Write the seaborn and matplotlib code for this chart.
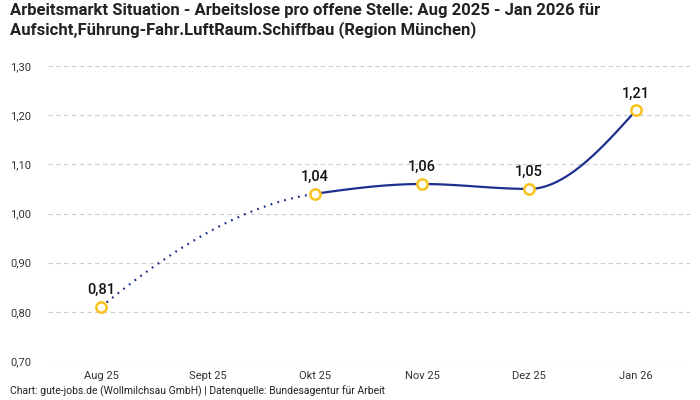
import numpy as np
import pandas as pd
import seaborn as sns
import matplotlib
matplotlib.use('Agg')
import matplotlib.pyplot as plt
from matplotlib.ticker import FuncFormatter

months = ['Aug 25', 'Sept 25', 'Okt 25', 'Nov 25', 'Dez 25', 'Jan 26']
values = [0.81, np.nan, 1.04, 1.06, 1.05, 1.21]
yticks = [0.70, 0.80, 0.90, 1.00, 1.10, 1.20, 1.30]

title = ('Arbeitsmarkt Situation - Arbeitslose pro offene Stelle: Aug 2025 - Jan 2026 für\n'
         'Aufsicht,Führung-Fahr.LuftRaum.Schiffbau (Region München)')
footer = 'Chart: gute-jobs.de (Wollmilchsau GmbH) | Datenquelle: Bundesagentur für Arbeit'

LINE = '#1d2f8f'
DOT = '#f7c21b'

sns.set_theme(style='white')
plt.rcParams['font.family'] = ['Roboto', 'DejaVu Sans']

df = pd.DataFrame({'month': months, 'x': np.arange(len(months)), 'y': values})
pts = df.dropna()
px = pts['x'].to_numpy(float)
py = pts['y'].to_numpy(float)


# shape-preserving cubic (pchip) through the known points
def pchip(x, y, n=60):
    h = np.diff(x)
    d = np.diff(y) / h
    m = np.zeros(len(x))
    for i in range(1, len(x) - 1):
        if d[i - 1] * d[i] <= 0:
            m[i] = 0
        else:
            w1 = 2 * h[i] + h[i - 1]
            w2 = h[i] + 2 * h[i - 1]
            m[i] = (w1 + w2) / (w1 / d[i - 1] + w2 / d[i])

    def end(h0, h1, d0, d1):
        s = ((2 * h0 + h1) * d0 - h0 * d1) / (h0 + h1)
        if np.sign(s) != np.sign(d0):
            return 0
        if np.sign(d0) != np.sign(d1) and abs(s) > 3 * abs(d0):
            return 3 * d0
        return s

    m[0] = end(h[0], h[1], d[0], d[1])
    m[-1] = end(h[-1], h[-2], d[-1], d[-2])
    segs = []
    for i in range(len(d)):
        t = np.linspace(0, 1, n)
        h00 = 2 * t**3 - 3 * t**2 + 1
        h10 = t**3 - 2 * t**2 + t
        h01 = -2 * t**3 + 3 * t**2
        h11 = t**3 - t**2
        yy = h00 * y[i] + h10 * h[i] * m[i] + h01 * y[i + 1] + h11 * h[i] * m[i + 1]
        segs.append((x[i] + t * h[i], yy))
    return segs


segs = pchip(px, py)

fig = plt.figure(figsize=(7, 4), dpi=100)
ax = fig.add_axes([0.068, 0.0975, 0.917, 0.7375])

for i, (sx, sy) in enumerate(segs):
    gap = px[i + 1] - px[i] > 1
    sns.lineplot(x=sx, y=sy, ax=ax, color=LINE, lw=1.6,
                 linestyle=(0, (0.8, 2.4)) if gap else '-', sort=False, zorder=2)

sns.scatterplot(data=pts, x='x', y='y', ax=ax, s=55, facecolor='white',
                edgecolor=DOT, linewidth=1.8, zorder=3)

for xv, yv in zip(px, py):
    ax.annotate(f'{yv:.2f}'.replace('.', ','), (xv, yv), xytext=(0, 7),
                textcoords='offset points', ha='center', va='bottom',
                fontsize=10.5, fontweight='medium', color='#111111', zorder=4)

ax.set_xlim(-0.5, len(months) - 0.5)
ax.set_ylim(0.70, 1.30)
ax.set_xticks(df['x'])
ax.set_xticklabels(months)
ax.set_yticks(yticks)
ax.yaxis.set_major_formatter(FuncFormatter(lambda v, p: f'{v:.2f}'.replace('.', ',')))
ax.tick_params(axis='both', length=0, labelsize=8, colors='#333333')
ax.tick_params(axis='y', pad=12)
ax.tick_params(axis='x', pad=7)
ax.set_xlabel('')
ax.set_ylabel('')
ax.grid(axis='y', color='#cccccc', linestyle=(0, (4, 3)), linewidth=0.8)
for s in ax.spines.values():
    s.set_visible(False)

fig.text(0.014, 0.992, title, ha='left', va='top', fontsize=12, fontweight='bold',
         color='#222222', family=['Liberation Sans Narrow', 'Roboto', 'DejaVu Sans'],
         linespacing=1.25)
fig.text(0.014, 0.008, footer, ha='left', va='bottom', fontsize=7.5, color='#222222')

fig.savefig('out.png', dpi=100)
